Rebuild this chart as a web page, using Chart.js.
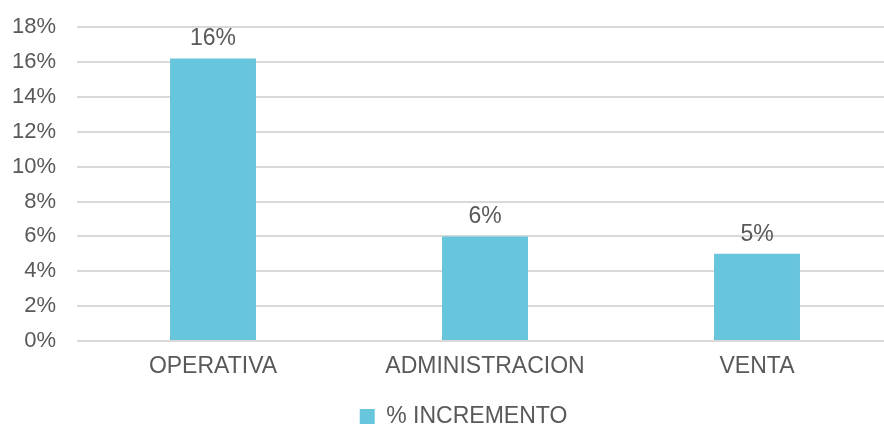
<!DOCTYPE html>
<html>
<head>
<meta charset="utf-8">
<script src="https://cdn.jsdelivr.net/npm/chart.js@4/dist/chart.umd.min.js"></script>
<style>
  html, body { margin: 0; padding: 0; background: #fff; overflow: hidden; }
  #wrap { width: 893px; height: 445px; margin-top: -7px; }
</style>
</head>
<body>
<div id="wrap"><canvas id="myChart"></canvas></div>
<script>
const categories = ['OPERATIVA', 'ADMINISTRACION', 'VENTA'];
const incremento = [0.162, 0.06, 0.05];
const seriesName = '% INCREMENTO';
const yMax = 0.18;
const yStep = 0.02;

const textColor = '#595959';
const barColor = '#67C5DC';
const fontFamily = '"Liberation Sans", Arial, sans-serif';

// labels above each bar
const valueLabels = {
    id: 'valueLabels',
    afterDatasetsDraw(chart) {
        const ctx = chart.ctx;
        const meta = chart.getDatasetMeta(0);
        ctx.save();
        ctx.font = '23px ' + fontFamily;
        ctx.fillStyle = textColor;
        ctx.textAlign = 'center';
        ctx.textBaseline = 'bottom';
        meta.data.forEach((bar, i) => {
            const v = chart.data.datasets[0].data[i];
            ctx.fillText(Math.round(v * 100) + '%', bar.x, bar.y - 8);
        });
        ctx.restore();
    }
};

// the legend sits a little right of the canvas centre in the original
const legendShift = {
    id: 'legendShift',
    afterLayout(chart) {
        chart.legend.left += 17;
        chart.legend.right += 17;
    }
};

const ctx = document.getElementById('myChart').getContext('2d');
const myChart = new Chart(ctx, {
    type: 'bar',
    data: {
        labels: categories,
        datasets: [{
            label: seriesName,
            data: incremento,
            backgroundColor: barColor,
            borderWidth: 0,
            categoryPercentage: 1,
            barPercentage: 0.316
        }]
    },
    options: {
        responsive: true,
        maintainAspectRatio: false,
        animation: false,
        layout: { padding: { top: 0, left: 0, right: 0, bottom: 0 } },
        scales: {
            x: {
                grid: { display: false, drawTicks: false },
                border: { display: false },
                afterFit(scale) { scale.height = 62; },
                ticks: {
                    color: textColor,
                    padding: 12,
                    font: { size: 23, family: fontFamily }
                }
            },
            y: {
                min: 0,
                max: yMax,
                border: { display: false },
                grid: { color: '#d9d9d9', lineWidth: 2, tickLength: 0 },
                afterFit(scale) { scale.width = 77; },
                ticks: {
                    stepSize: yStep,
                    color: textColor,
                    padding: 21,
                    font: { size: 22, family: fontFamily },
                    callback: v => Math.round(v * 100) + '%'
                }
            }
        },
        plugins: {
            tooltip: { enabled: false },
            legend: {
                position: 'bottom',
                labels: {
                    color: textColor,
                    boxWidth: 15,
                    boxHeight: 15,
                    padding: 2,
                    font: { size: 23, family: fontFamily }
                }
            }
        }
    },
    plugins: [valueLabels, legendShift]
});
</script>
</body>
</html>
